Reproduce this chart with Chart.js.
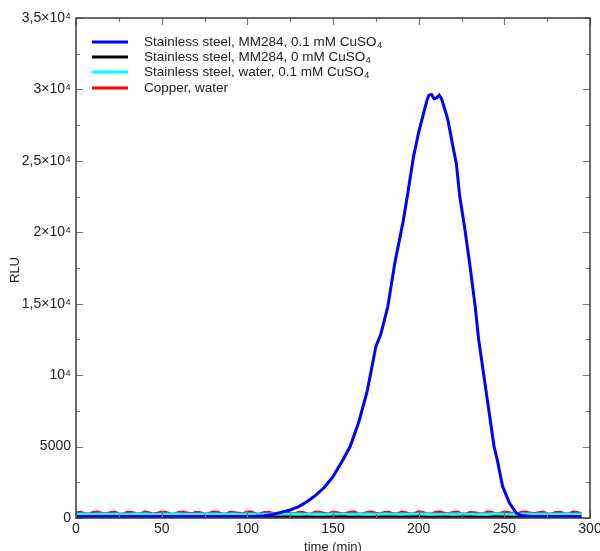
<!DOCTYPE html>
<html>
<head>
<meta charset="utf-8">
<script src="https://cdn.jsdelivr.net/npm/chart.js@4.4.1/dist/chart.umd.min.js"></script>
<style>
  html, body { margin: 0; padding: 0; background: #fff; }
  canvas { display: block; }
</style>
</head>
<body>
<canvas id="c" width="600" height="551"></canvas>
<script>
// ---- data ----
const baseTime = [0,5,10,15,20,25,30,35,40,45,50,55,60,65,70,75,80,85,90,95,100,105,110,115,120,125,130,135,140,145,150,155,160,165,170,175,180,185,190,195,200,205,210,215,220,225,230,235,240,245,250,255,260,265,270,275,280,285,290,295];

const redTime = [0,2.5,5,7.5,10,12.5,15,17.5,20,22.5,25,27.5,30,32.5,35,37.5,40,42.5,45,47.5,50,52.5,55,57.5,60,62.5,65,67.5,70,72.5,75,77.5,80,82.5,85,87.5,90,92.5,95,97.5,100,102.5,105,107.5,110,112.5,115,117.5,120,122.5,125,127.5,130,132.5,135,137.5,140,142.5,145,147.5,150,152.5,155,157.5,160,162.5,165,167.5,170,172.5,175,177.5,180,182.5,185,187.5,190,192.5,195,197.5,200,202.5,205,207.5,210,212.5,215,217.5,220,222.5,225,227.5,230,232.5,235,237.5,240,242.5,245,247.5,250,252.5,255,257.5,260,262.5,265,267.5,270,272.5,275,277.5,280,282.5,285,287.5,290,292.5,295];
const redCopperWater = [380,420,330,300,410,440,350,310,390,430,
  320,300,420,400,340,310,430,380,300,350,
  440,410,320,300,400,430,360,310,420,390,
  300,330,440,420,310,300,410,380,350,320,
  430,440,300,310,400,420,330,300,390,450,
  340,310,420,400,300,320,430,410,350,300,
  440,390,310,330,420,430,300,310,400,440,
  360,300,410,420,320,310,430,390,300,340,
  450,410,310,300,420,430,350,310,400,440,
  320,300,410,390,340,310,430,420,300,330,
  440,400,310,300,420,430,360,310,390,440,
  320,300,410,420,340,300,430,400,310];

const cyanSteelWater = [270,280,265,275,270,285,260,275,280,270,265,275,285,270,260,275,280,270,275,265,280,270,260,285,275,270,280,265,275,270,285,270,260,275,280,270,275,265,280,270,285,275,265,270,280,275,260,270,285,275,270,265,280,275,270,285,265,275,270,280];

const blackSteelMM0 = [60,70,50,80,55,65,45,75,60,50,70,55,65,80,50,60,70,45,65,75,55,60,80,50,70,65,55,75,60,45,70,80,55,65,60,50,75,70,55,65,80,50,60,70,55,75,65,50,60,80,70,55,65,60,75,50,70,60,55,65];

const blueTime = [0,10,20,30,40,50,60,70,80,90,100,105,110,115,120,125,130,135,140,145,150,155,160,165,170,175,178,182,186,191,194,197,200,203,205,206,207.5,209,210.5,212,213.5,215,217,220,222,224,227,230,233,235,238,241,244,246,249,253,257,260,265,270,280,290,295];
const blueSteelMM01 = [100,100,100,100,100,100,100,100,100,100,110,120,160,250,400,560,800,1150,1600,2150,2900,3900,5000,6700,8900,12000,12900,14800,17800,20800,23000,25300,27000,28400,29300,29600,29650,29350,29400,29600,29300,28700,27900,26000,24800,22500,20200,17600,14800,12500,10000,7500,5000,4000,2200,1050,350,170,110,100,100,100,100];

const legendLabels = ["Stainless steel, MM284, 0.1 mM CuSO", "Stainless steel, MM284, 0 mM CuSO", "Stainless steel, water, 0.1 mM CuSO", "Copper, water"];
const legendSubs = ["4", "4", "4", ""];
const yTickLabels = {0:"0",5000:"5000",10000:"10⁴",15000:"1,5×10⁴",20000:"2×10⁴",25000:"2,5×10⁴",30000:"3×10⁴",35000:"3,5×10⁴"};
const xTitle = "time (min)";
const yTitle = "RLU";

const FONT = "'Liberation Sans', Arial, Helvetica, sans-serif";
const pts = (xs, ys) => xs.map((x, i) => ({x: x, y: ys[i]}));

const frameAndLegend = {
  id: 'frameAndLegend',
  afterDatasetsDraw(chart) {
    const {ctx, chartArea: a, scales: {x, y}} = chart;
    ctx.save();
    // inward ticks
    ctx.strokeStyle = '#777';
    ctx.lineWidth = 1.2;
    ctx.beginPath();
    for (let v = 0; v <= 300; v += 25) {
      const px = Math.round(x.getPixelForValue(v)) + 0.5;
      const len = (v % 50 === 0) ? 7 : 4;
      ctx.moveTo(px, a.bottom); ctx.lineTo(px, a.bottom - len);
      ctx.moveTo(px, a.top); ctx.lineTo(px, a.top + len);
    }
    for (let v = 0; v <= 35000; v += 2500) {
      const py = Math.round(y.getPixelForValue(v)) + 0.5;
      const len = (v % 5000 === 0) ? 7 : 4;
      ctx.moveTo(a.left, py); ctx.lineTo(a.left + len, py);
      ctx.moveTo(a.right, py); ctx.lineTo(a.right - len, py);
    }
    ctx.stroke();
    // frame
    ctx.strokeStyle = '#444';
    ctx.lineWidth = 1.6;
    ctx.strokeRect(a.left, a.top, a.right - a.left, a.bottom - a.top);

    // legend
    const colors = chart.data.datasets.map(d => d.borderColor);
    const rows = [42, 57, 72, 88];
    ctx.textBaseline = 'middle';
    ctx.textAlign = 'left';
    rows.forEach((ry, i) => {
      ctx.strokeStyle = colors[i];
      ctx.lineWidth = 3;
      ctx.beginPath();
      ctx.moveTo(92, ry); ctx.lineTo(128, ry);
      ctx.stroke();
      ctx.fillStyle = '#222';
      ctx.font = '13.5px ' + FONT;
      ctx.fillText(legendLabels[i], 144, ry);
      if (legendSubs[i]) {
        const w = ctx.measureText(legendLabels[i]).width;
        ctx.font = '9px ' + FONT;
        ctx.fillText(legendSubs[i], 144 + w + 0.5, ry + 4);
      }
    });

    // axis titles
    ctx.fillStyle = '#222';
    ctx.font = '13px ' + FONT;
    ctx.textAlign = 'center';
    ctx.textBaseline = 'middle';
    ctx.fillText(xTitle, (a.left + a.right) / 2, 547);
    ctx.save();
    ctx.translate(15, 270);
    ctx.rotate(-Math.PI / 2);
    ctx.fillText(yTitle, 0, 0);
    ctx.restore();
    ctx.restore();
  }
};

new Chart(document.getElementById('c'), {
  type: 'line',
  data: {
    datasets: [
      { label: 'Stainless steel, MM284, 0.1 mM CuSO₄', data: pts(blueTime, blueSteelMM01), borderColor: '#0000ff', borderWidth: 3, order: 0 },
      { label: 'Stainless steel, MM284, 0 mM CuSO₄', data: pts(baseTime, blackSteelMM0), borderColor: '#000000', borderWidth: 3, order: 1 },
      { label: 'Stainless steel, water, 0.1 mM CuSO₄', data: pts(baseTime, cyanSteelWater), borderColor: '#00ffff', borderWidth: 3, order: 2 },
      { label: 'Copper, water', data: pts(redTime, redCopperWater), borderColor: '#ff0000', borderWidth: 2.5, order: 3 }
    ]
  },
  options: {
    responsive: false,
    animation: false,
    devicePixelRatio: 1,
    elements: { point: { radius: 0 }, line: { tension: 0 } },
    layout: { padding: { top: 18, right: 10, left: 0, bottom: 0 } },
    plugins: { legend: { display: false }, tooltip: { enabled: false } },
    scales: {
      x: {
        type: 'linear', min: 0, max: 300,
        grid: { display: false, drawTicks: false },
        border: { display: false },
        ticks: { stepSize: 50, padding: 3, color: '#222', font: { size: 14, family: FONT }, maxRotation: 0, autoSkip: false },
        afterFit(s) { s.height = 33; s.paddingLeft = 0; s.paddingRight = 0; }
      },
      y: {
        type: 'linear', min: 0, max: 35000,
        grid: { display: false, drawTicks: false },
        border: { display: false },
        ticks: { stepSize: 5000, padding: 5, color: '#222', font: { size: 14, family: FONT },
          callback: (v) => yTickLabels[v] !== undefined ? yTickLabels[v] : '' },
        afterFit(s) { s.width = 76; s.paddingTop = 0; s.paddingBottom = 0; }
      }
    }
  },
  plugins: [frameAndLegend]
});
</script>
</body>
</html>
